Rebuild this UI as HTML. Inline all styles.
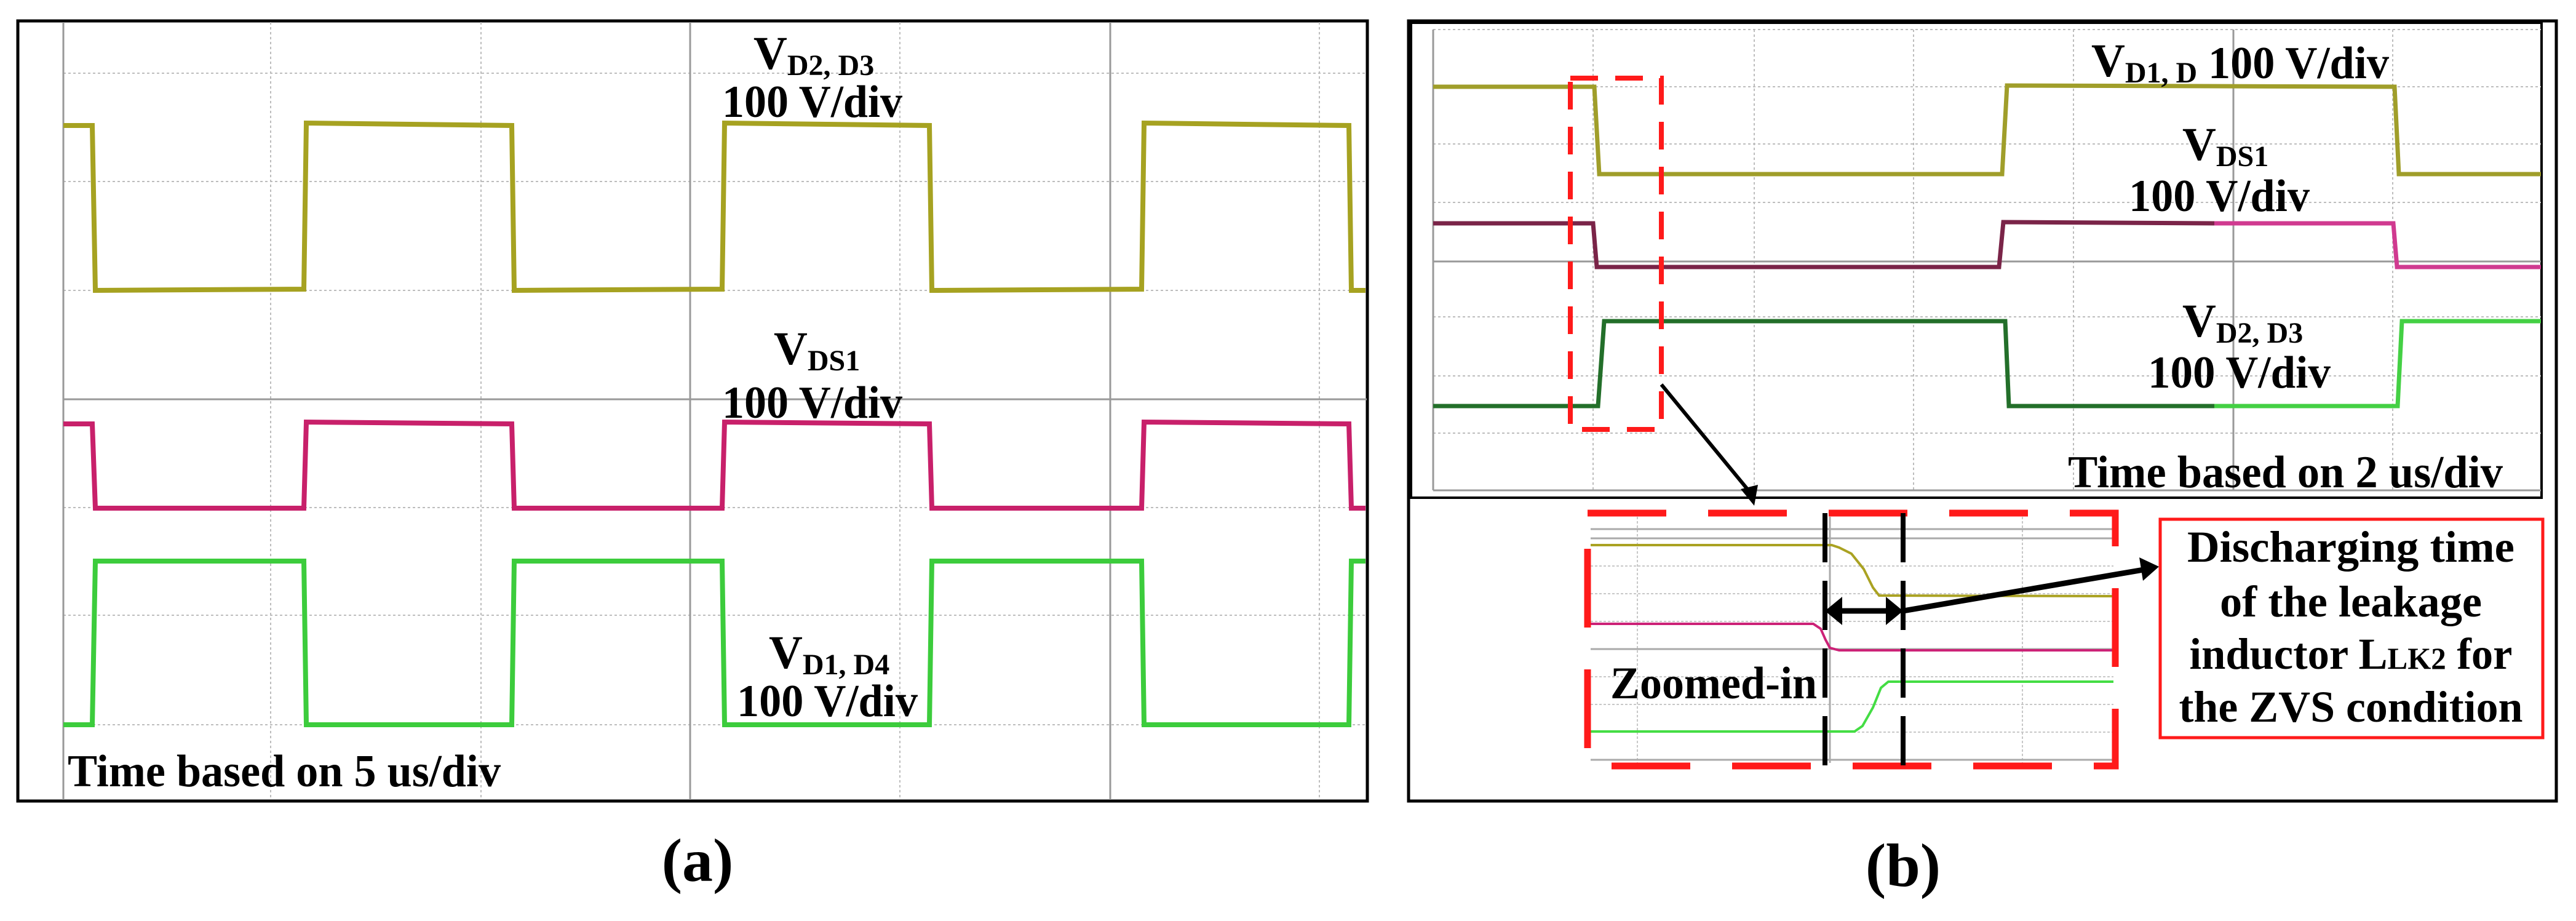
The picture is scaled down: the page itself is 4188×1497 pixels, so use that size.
<!DOCTYPE html>
<html><head><meta charset="utf-8"><style>
html,body{margin:0;padding:0;background:#fff}
svg{display:block}
text{font-family:"Liberation Serif",serif;font-weight:bold;fill:#000}
</style></head><body>
<svg width="4188" height="1497" viewBox="0 0 4188 1497" xmlns="http://www.w3.org/2000/svg">
<!-- ===== Panel (a) ===== -->
<rect x="29" y="34" width="2194" height="1268" fill="#fff" stroke="#000" stroke-width="5"/>
<g stroke="#bdbdbd" stroke-width="2" stroke-dasharray="4,4">
<line x1="103" y1="119" x2="2222" y2="119"/><line x1="103" y1="295" x2="2222" y2="295"/>
<line x1="103" y1="472" x2="2222" y2="472"/><line x1="103" y1="825" x2="2222" y2="825"/>
<line x1="103" y1="1000" x2="2222" y2="1000"/><line x1="103" y1="1178" x2="2222" y2="1178"/>
<line x1="440" y1="36" x2="440" y2="1300"/><line x1="782" y1="36" x2="782" y2="1300"/>
<line x1="1463" y1="36" x2="1463" y2="1300"/><line x1="2145" y1="36" x2="2145" y2="1300"/>
</g>
<g stroke="#999" stroke-width="3">
<line x1="103" y1="36" x2="103" y2="1300"/>
<line x1="103" y1="649" x2="2222" y2="649"/>
<line x1="1122" y1="36" x2="1122" y2="1300"/>
<line x1="1805" y1="36" x2="1805" y2="1300"/>
</g>
<polyline fill="none" stroke="#a6a221" stroke-width="8" points="103,204 150,204 155,472 494,470 498,200 832,204 836,472 1174,470 1178,200 1511,204 1515,472 1856,470 1860,200 2193,204 2197,472 2220,472"/>
<polyline fill="none" stroke="#c8206a" stroke-width="8" points="103,689 150,689 155,826 494,826 498,686 832,689 836,826 1174,826 1178,686 1511,689 1515,826 1856,826 1860,686 2193,689 2197,826 2220,826"/>
<polyline fill="none" stroke="#3ccc3c" stroke-width="8" points="103,1178 150,1178 155,912 494,912 498,1178 832,1178 836,912 1174,912 1178,1178 1511,1178 1515,912 1856,912 1860,1178 2193,1178 2197,912 2220,912"/>
<text x="1225" y="112" font-size="76">V<tspan font-size="48" dy="10">D2, D3</tspan></text>
<text x="1174" y="190" font-size="74" textLength="293" lengthAdjust="spacingAndGlyphs">100 V/div</text>
<text x="1258" y="592" font-size="76">V<tspan font-size="48" dy="10">DS1</tspan></text>
<text x="1174" y="679" font-size="74" textLength="293" lengthAdjust="spacingAndGlyphs">100 V/div</text>
<text x="1250" y="1086" font-size="76">V<tspan font-size="48" dy="10">D1, D4</tspan></text>
<text x="1198" y="1164" font-size="74" textLength="294" lengthAdjust="spacingAndGlyphs">100 V/div</text>
<text x="110" y="1278" font-size="74" textLength="704" lengthAdjust="spacingAndGlyphs">Time based on 5 us/div</text>
<text x="1134" y="1432" font-size="100" text-anchor="middle">(a)</text>

<!-- ===== Panel (b) ===== -->
<rect x="2290" y="34" width="1866" height="1268" fill="#fff" stroke="#000" stroke-width="5"/>
<rect x="2294" y="37" width="1838" height="772" fill="#fff" stroke="#000" stroke-width="4"/>
<g stroke="#bdbdbd" stroke-width="2" stroke-dasharray="4,4">
<line x1="2330" y1="48" x2="4131" y2="48"/><line x1="2330" y1="141" x2="4131" y2="141"/>
<line x1="2330" y1="234" x2="4131" y2="234"/><line x1="2330" y1="329" x2="4131" y2="329"/>
<line x1="2330" y1="515" x2="4131" y2="515"/><line x1="2330" y1="611" x2="4131" y2="611"/>
<line x1="2330" y1="704" x2="4131" y2="704"/>
<line x1="2590" y1="48" x2="2590" y2="797"/><line x1="2852" y1="48" x2="2852" y2="797"/>
<line x1="3111" y1="48" x2="3111" y2="797"/><line x1="3371" y1="48" x2="3371" y2="797"/>
<line x1="3890" y1="48" x2="3890" y2="797"/>
</g>
<g stroke="#999" stroke-width="3">
<line x1="2330" y1="48" x2="2330" y2="797"/>
<line x1="2330" y1="797" x2="4131" y2="797"/>
<line x1="2330" y1="425" x2="4131" y2="425"/>
<line x1="3631" y1="48" x2="3631" y2="797"/>
</g>
<polyline fill="none" stroke="#a09e2a" stroke-width="7" points="2330,141 2592,141 2600,283 3255,283 3263,139 3893,141 3900,283 4131,283"/>
<polyline fill="none" stroke="#7a2448" stroke-width="7" points="2330,363 2590,363 2596,434 3250,434 3257,361 3600,363"/>
<polyline fill="none" stroke="#d03a90" stroke-width="7" points="3600,363 3891,363 3897,434 4131,434"/>
<polyline fill="none" stroke="#236f2a" stroke-width="7" points="2330,660 2598,660 2608,522 3260,522 3266,660 3600,660"/>
<polyline fill="none" stroke="#44d044" stroke-width="7" points="3600,660 3898,660 3905,522 4131,522"/>
<text x="3400" y="124" font-size="76">V<tspan font-size="48" dy="10">D1, D</tspan></text>
<text x="3590" y="127" font-size="74" textLength="294" lengthAdjust="spacingAndGlyphs">100 V/div</text>
<text x="3548" y="260" font-size="76">V<tspan font-size="48" dy="10">DS1</tspan></text>
<text x="3461" y="343" font-size="74" textLength="294" lengthAdjust="spacingAndGlyphs">100 V/div</text>
<text x="3548" y="547" font-size="76">V<tspan font-size="48" dy="10">D2, D3</tspan></text>
<text x="3492" y="630" font-size="74" textLength="297" lengthAdjust="spacingAndGlyphs">100 V/div</text>
<text x="3362" y="792" font-size="74" textLength="707" lengthAdjust="spacingAndGlyphs">Time based on 2 us/div</text>

<rect x="2553" y="127" width="148" height="571" fill="none" stroke="#ff1a1a" stroke-width="8" stroke-dasharray="45,28"/>
<line x1="2701" y1="625" x2="2845" y2="800" stroke="#000" stroke-width="6"/>
<polygon points="2852,822 2830,795 2858,788" fill="#000"/>

<g stroke="#c8c8c8" stroke-width="2" stroke-dasharray="4,3">
<line x1="2586" y1="920" x2="3436" y2="920"/><line x1="2586" y1="965" x2="3436" y2="965"/>
<line x1="2586" y1="1010" x2="3436" y2="1010"/><line x1="2586" y1="1100" x2="3436" y2="1100"/>
<line x1="2586" y1="1145" x2="3436" y2="1145"/><line x1="2586" y1="1190" x2="3436" y2="1190"/>
<line x1="2662" y1="840" x2="2662" y2="1240"/><line x1="3288" y1="840" x2="3288" y2="1240"/>
</g>
<g stroke="#aaa" stroke-width="3">
<line x1="2586" y1="860" x2="3436" y2="860"/><line x1="2586" y1="875" x2="3436" y2="875"/>
<line x1="2586" y1="1055" x2="3436" y2="1055"/><line x1="2586" y1="1235" x2="3436" y2="1235"/>
<line x1="2975" y1="840" x2="2975" y2="1240"/>
</g>
<polyline fill="none" stroke="#aaa222" stroke-width="4" points="2586,886 2978,886 2990,890 3010,900 3030,925 3045,955 3055,968 3436,969"/>
<polyline fill="none" stroke="#cc2277" stroke-width="4" points="2586,1014 2948,1014 2960,1022 2968,1040 2975,1053 2990,1057 3436,1057"/>
<polyline fill="none" stroke="#44dd44" stroke-width="4" points="2586,1189 3015,1189 3028,1180 3045,1150 3058,1118 3070,1108 3436,1108"/>
<rect x="2581" y="834" width="858" height="411" fill="none" stroke="#ff1a1a" stroke-width="11" stroke-dasharray="128,68"/>
<g stroke="#000" stroke-width="8" stroke-dasharray="80,30">
<line x1="2967" y1="834" x2="2967" y2="1250"/>
<line x1="3094" y1="834" x2="3094" y2="1250"/>
</g>
<line x1="2985" y1="993" x2="3076" y2="993" stroke="#000" stroke-width="9"/>
<polygon points="2967,993 2995,970 2995,1016" fill="#000"/>
<polygon points="3094,993 3066,970 3066,1016" fill="#000"/>
<line x1="3094" y1="993" x2="3485" y2="926" stroke="#000" stroke-width="9"/>
<polygon points="3510,921 3478,906 3484,944" fill="#000"/>
<text x="2618" y="1135" font-size="74" textLength="336" lengthAdjust="spacingAndGlyphs">Zoomed-in</text>

<rect x="3512" y="844" width="622" height="355" fill="#fff" stroke="#ff1a1a" stroke-width="5"/>
<text x="3822" y="913" font-size="72" text-anchor="middle" textLength="532" lengthAdjust="spacingAndGlyphs">Discharging time</text>
<text x="3822" y="1002" font-size="72" text-anchor="middle" textLength="426" lengthAdjust="spacingAndGlyphs">of the leakage</text>
<text x="3822" y="1087" font-size="72" text-anchor="middle" textLength="525" lengthAdjust="spacingAndGlyphs">inductor L<tspan font-size="50">LK2</tspan> for</text>
<text x="3822" y="1173" font-size="72" text-anchor="middle" textLength="559" lengthAdjust="spacingAndGlyphs">the ZVS condition</text>

<text x="3094" y="1440" font-size="100" text-anchor="middle">(b)</text>
</svg>
</body></html>
